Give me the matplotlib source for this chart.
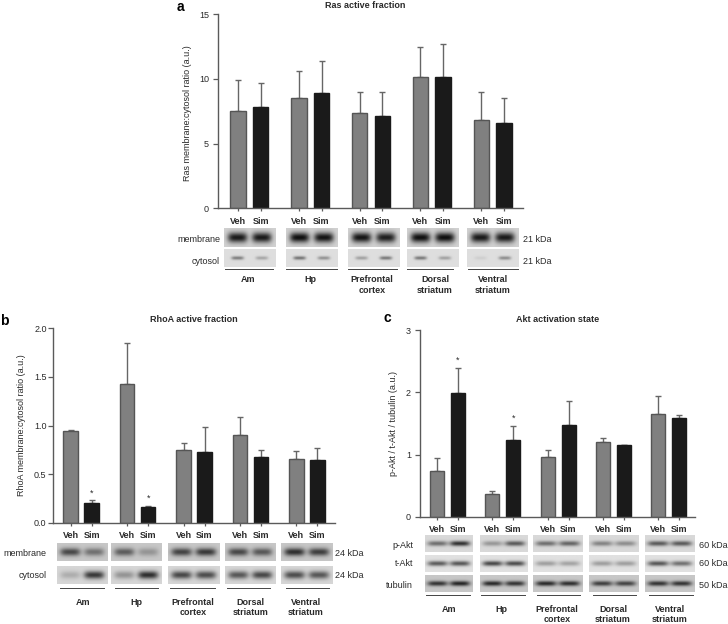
import numpy as np
import matplotlib
matplotlib.use("Agg")
import matplotlib.pyplot as plt

plt.rcParams['font.family'] = ['Liberation Sans', 'DejaVu Sans']

W, H = 728, 624
TXT = '#2a2a2a'
AX = '#5a5a5a'
VEH = '#808080'
SIM = '#1a1a1a'
FS = 6.5

regions = ['Am', 'Hp', 'Prefrontal\ncortex', 'Dorsal\nstriatum', 'Ventral\nstriatum']
treatments = ['Veh', 'Sim']

# means and upper error-bar tips: [Veh, Sim] per region
ras_mean = [[7.5, 7.8], [8.55, 8.93], [7.38, 7.1], [10.12, 10.12], [6.82, 6.6]]
ras_top = [[9.9, 9.68], [10.63, 11.36], [8.98, 9.0], [12.44, 12.68], [8.96, 8.55]]
rho_mean = [[0.94, 0.2], [1.43, 0.16], [0.75, 0.725], [0.9, 0.68], [0.66, 0.645]]
rho_top = [[0.955, 0.23], [1.85, 0.175], [0.82, 0.985], [1.085, 0.75], [0.74, 0.765]]
akt_mean = [[0.73, 1.99], [0.37, 1.24], [0.96, 1.47], [1.21, 1.15], [1.66, 1.59]]
akt_top = [[0.95, 2.39], [0.42, 1.46], [1.07, 1.86], [1.26, 1.15], [1.95, 1.64]]

# significance stars: (region index, value height)
rho_stars = [(0, 0.30), (1, 0.25)]
akt_stars = [(0, 2.52), (1, 1.58)]

# western-blot band darkness: [Veh, Sim] per region, per row
ras_blots = {
    'membrane': [[.72, .72], [.76, .74], [.74, .70], [.76, .76], [.72, .72]],
    'cytosol': [[.38, .22], [.42, .30], [.24, .40], [.40, .24], [.06, .32]],
}
rho_blots = {
    'membrane': [[.50, .34], [.42, .20], [.52, .56], [.50, .44], [.60, .54]],
    'cytosol': [[.16, .62], [.26, .66], [.56, .54], [.50, .56], [.54, .50]],
}
akt_blots = {
    'p-Akt': [[.42, .66], [.26, .50], [.42, .46], [.34, .30], [.50, .50]],
    't-Akt': [[.52, .54], [.60, .58], [.26, .24], [.26, .26], [.54, .44]],
    'tubulin': [[.58, .64], [.62, .58], [.62, .60], [.54, .52], [.58, .58]],
}

fig = plt.figure(figsize=(W / 100, H / 100), dpi=100, facecolor='white')
ov = fig.add_axes([0, 0, 1, 1], zorder=0)
ov.set_xlim(0, W)
ov.set_ylim(H, 0)
ov.axis('off')


def bar_panel(left, right, top, bottom, v0, s0, v4, width, ymax, yticks, yfmt,
              means, tops, stars, tick_y, ypad):
    ax = fig.add_axes([left / W, 1 - bottom / H, (right - left) / W, (bottom - top) / H],
                      zorder=2, facecolor='none')
    slot = s0 - v0
    gap = (v4 - v0) / 4 / slot
    ax.set_xlim((left - v0) / slot, (right - v0) / slot)
    ax.set_ylim(0, ymax)
    xs, vals, errs, cols = [], [], [], []
    for i in range(len(means)):
        for j in range(2):
            xs.append(i * gap + j)
            vals.append(means[i][j])
            errs.append(tops[i][j] - means[i][j])
            cols.append(VEH if j == 0 else SIM)
    ax.errorbar(xs, vals, yerr=[[0] * len(errs), errs], fmt='none', ecolor='#666666',
                elinewidth=1.0, capsize=2.5, capthick=1.0, zorder=1)
    ax.bar(xs, vals, width=width / slot, color=cols,
           edgecolor=['#555555' if c == VEH else SIM for c in cols],
           linewidth=1.0, zorder=2)
    for i, y in stars:
        ax.text(i * gap + 1, y, '*', ha='center', va='center', fontsize=6.5, color=TXT)
    for s in ('top', 'right'):
        ax.spines[s].set_visible(False)
    for s in ('left', 'bottom'):
        ax.spines[s].set_color(AX)
        ax.spines[s].set_linewidth(1.0)
    ax.set_yticks(yticks)
    ax.set_yticklabels([yfmt % t for t in yticks], fontsize=FS, color=TXT)
    ax.set_xticks(xs)
    ax.set_xticklabels(treatments * len(means), fontsize=FS, fontweight='bold', color=TXT)
    ax.tick_params(axis='y', length=3.6, width=0.9, color=AX, pad=ypad)
    ax.tick_params(axis='x', length=2.5, width=0.9, color=AX, pad=(tick_y - bottom - 3.5 - 3.5) * 0.72)
    return ax


def blot(x0, x1, y0, y1, bg, pair, thick, wide, cx=(0.26, 0.73)):
    nx, ny = int(x1 - x0) * 3, int(y1 - y0) * 3
    X, Y = np.meshgrid(np.linspace(0, 1, nx), np.linspace(0, 1, ny))
    img = np.full((ny, nx), bg, dtype=float)
    for c, d in zip(cx, pair):
        img -= d * np.exp(-((X - c) / wide) ** 4 - ((Y - 0.5) / thick) ** 2)
    ov.imshow(np.clip(img, 0, 1), cmap='gray', vmin=0, vmax=1, extent=(x0, x1, y1, y0),
              aspect='auto', zorder=1, interpolation='bilinear')


def annotate(title, tx, ty, letter, lx, ly, ylabel, yx, yy):
    ov.text(tx, ty, title, ha='center', va='center', fontsize=FS, fontweight='bold', color=TXT)
    ov.text(lx, ly, letter, ha='center', va='center', fontsize=10, fontweight='bold', color='black')
    ov.text(yx, yy, ylabel, ha='center', va='center', rotation=90, fontsize=FS, color=TXT)


def footer(blots, panels_x, rows_y, backgrounds, thick, wide, row_lx, row_ty, kda, kda_x,
           lines, line_y, label_x, label_y, spacing):
    for (name, vals), (y0, y1), ry, bg, th, wd, k in zip(blots.items(), rows_y, row_ty,
                                                         backgrounds, thick, wide, kda):
        for (x0, x1), pair in zip(panels_x, vals):
            blot(x0, x1, y0, y1, bg, pair, th, wd)
        ov.text(row_lx, ry, name, ha='right', va='center', fontsize=FS, color=TXT)
        ov.text(kda_x, ry, k, ha='left', va='center', fontsize=FS, color=TXT)
    for (a, b) in lines:
        ov.plot([a, b], [line_y, line_y], color='#444444', lw=0.7, zorder=2)
    for x, r in zip(label_x, regions):
        ov.text(x, label_y - 3, r, ha='center', va='top', fontsize=FS,
                fontweight='bold', color=TXT, linespacing=spacing)


# Panel a
bar_panel(218, 523, 14.3, 208.3, 238, 260.7, 481.3, 15.5, 15, [0, 5, 10, 15], '%d',
          ras_mean, ras_top, [], 221, 2.9)
annotate('Ras active fraction', 365, 5, 'a', 180, 7,
         'Ras membrane:cytosol ratio (a.u.)', 187, 113)
footer(ras_blots,
       [(224, 276), (286, 338), (348, 400), (407, 459), (467, 519)],
       [(228, 247), (249, 267)], [.82, .87], [.27, .10], [.19, .12],
       220, [240, 261], ['21 kDa', '21 kDa'], 523,
       [(225, 272.7), (286, 336.7), (348, 397), (407.3, 453), (468, 518)], 268.7,
       [248, 310, 372, 435, 493], 278.5, 1.15)

# Panel b
bar_panel(53, 335, 328.3, 522.7, 70.7, 91.7, 296.3, 14.7, 2.0, [0, 0.5, 1.0, 1.5, 2.0], '%.1f',
          rho_mean, rho_top, rho_stars, 535, 1.0)
annotate('RhoA active fraction', 194, 319, 'b', 4.5, 321,
         'RhoA membrane:cytosol ratio (a.u.)', 21.7, 424.7)
footer(rho_blots,
       [(56.7, 107.3), (111, 162), (167.7, 219), (225, 275.7), (281, 332.7)],
       [(544, 561.3), (566, 584)], [.78, .84], [.22, .22], [.2, .2],
       46.7, [554, 575], ['24 kDa', '24 kDa'], 335,
       [(60, 104), (114.7, 158.3), (170, 215), (226.7, 270), (285.7, 329)], 587.7,
       [83, 136, 192.7, 250.7, 306], 600.7, 1.25)

# Panel c
bar_panel(420, 695, 330.3, 516.7, 436.7, 457.7, 658.3, 14, 3, [0, 1, 2, 3], '%d',
          akt_mean, akt_top, akt_stars, 529, 2.9)
annotate('Akt activation state', 558, 319, 'c', 387, 318,
         'p-Akt / t-Akt / tubulin (a.u.)', 393, 423)
footer(akt_blots,
       [(425, 472.7), (479.7, 527), (533.3, 583), (588.7, 638.3), (645, 695)],
       [(535.7, 552.3), (555.3, 572), (575, 591.7)], [.85, .88, .78], [.15, .15, .15], [.21, .21, .21],
       413, [545, 564, 585], ['60 kDa', '60 kDa', '50 kDa'], 699.3,
       [(426, 470), (481, 525.3), (536.7, 580), (593.3, 636), (649.3, 692.7)], 595.3,
       [449, 501.7, 556.7, 613, 670], 607.7, 1.2)

ov.set_xlim(0, W)
ov.set_ylim(H, 0)
fig.savefig('out.png', dpi=100)
